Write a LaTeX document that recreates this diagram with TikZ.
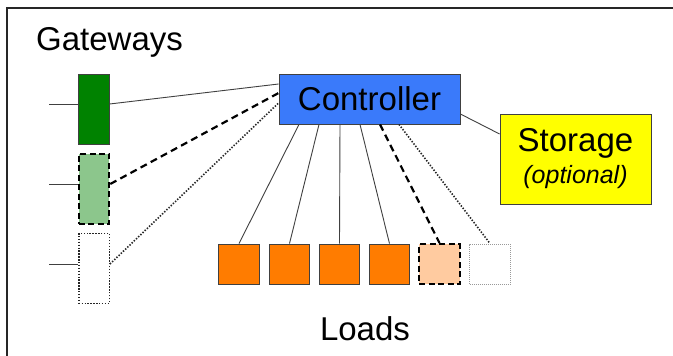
\documentclass[tikz,border=0pt]{standalone}
\usepackage{fontspec}
\setmainfont{Liberation Sans}
\begin{document}
\begin{tikzpicture}[x=1pt,y=-1pt,
  box/.style={draw=black!75,line width=0.8pt,inner sep=0pt,minimum width=#1},
  gw/.style={box=30.5pt,minimum height=70pt},
  ld/.style={box=40.5pt,minimum height=40pt},
  conn/.style={draw=black!75,line width=0.9pt},
  dashconn/.style={draw=black,line width=2.2pt,dash pattern=on 7pt off 4.5pt},
  dotconn/.style={draw=black!85,line width=1.6pt,dash pattern=on 1.4pt off 1.6pt},
  big/.style={font=\fontsize{33}{38}\selectfont}
]
\useasboundingbox (0,0) rectangle (673,356);
\fill[white] (0,0) rectangle (673,356);
\draw[line width=1.6pt,black!85] (7,356) -- (7,8) -- (673,8);

\node[big,anchor=base west,inner sep=0pt] (gwlabel) at (36,50) {Gateways};
\node[big,anchor=base,inner sep=0pt] (ldlabel) at (365,340) {Loads};

% gateways
\node[gw,fill={rgb,255:red,0;green,130;blue,0}] (g1) at (94,109) {};
\node[gw,fill={rgb,255:red,140;green,198;blue,140},draw=black,line width=2pt,dash pattern=on 6pt off 3.5pt] (g2) at (94,188.5) {};
\node[gw,draw=black!85,line width=1.5pt,dash pattern=on 1.4pt off 1.5pt] (g3) at (94,268.5) {};

\coordinate (s1) at (49,104);
\coordinate (s2) at (49,184);
\coordinate (s3) at (49,264);

% controller
\node[box=181pt,minimum height=50pt,fill={rgb,255:red,58;green,122;blue,250},big] (ctrl) at (369.5,99) {Controller};

% storage
\node[box=151pt,minimum height=90pt,fill={rgb,255:red,255;green,255;blue,0},align=center,
  font=\fontsize{33}{35}\selectfont] (stor) at (575.5,159) {Storage\\[-3pt]{\fontsize{25}{28}\selectfont\itshape (optional)}};

% loads
\node[ld,fill={rgb,255:red,255;green,124;blue,0}] (l1) at (239,264) {};
\node[ld,fill={rgb,255:red,255;green,124;blue,0}] (l2) at (289.5,264) {};
\node[ld,fill={rgb,255:red,255;green,124;blue,0}] (l3) at (339.5,264) {};
\node[ld,fill={rgb,255:red,255;green,124;blue,0}] (l4) at (389.5,264) {};
\node[ld,fill={rgb,255:red,255;green,203;blue,160},draw=black,line width=2pt,dash pattern=on 6pt off 3.5pt] (l5) at (439.5,264) {};
\node[ld,draw=black!40,line width=1pt,dash pattern=on 1pt off 1pt] (l6) at (490,264) {};

% stubs
\draw[conn] (s1) -- ([yshift=5pt]g1.west);
\draw[conn] (s2) -- ([yshift=4.5pt]g2.west);
\draw[conn] (s3) -- ([yshift=4.5pt]g3.west);

% gateway connectors
\draw[conn] ([yshift=5pt]g1.east) -- ([yshift=15pt]ctrl.west);
\draw[dashconn] ([yshift=4.5pt]g2.east) -- ([yshift=6pt]ctrl.west);
\draw[dotconn] ([yshift=4.5pt]g3.east) -- ([yshift=-4pt]ctrl.west);

% load connectors
\draw[conn] ([xshift=-70.5pt]ctrl.south) -- (l1.north);
\draw[conn] ([xshift=-50.5pt]ctrl.south) -- (l2.north);
\draw[conn] ([xshift=-29.5pt]ctrl.south) -- (l3.north);
\draw[conn] ([xshift=-9.5pt]ctrl.south) -- (l4.north);
\draw[dashconn] ([xshift=10.5pt]ctrl.south) -- (l5.north);
\draw[dotconn] ([xshift=29.5pt]ctrl.south) -- (l6.north);

% storage connector
\draw[conn] ([yshift=-15pt]ctrl.east) -- ([yshift=25pt]stor.west);
\end{tikzpicture}
\end{document}
